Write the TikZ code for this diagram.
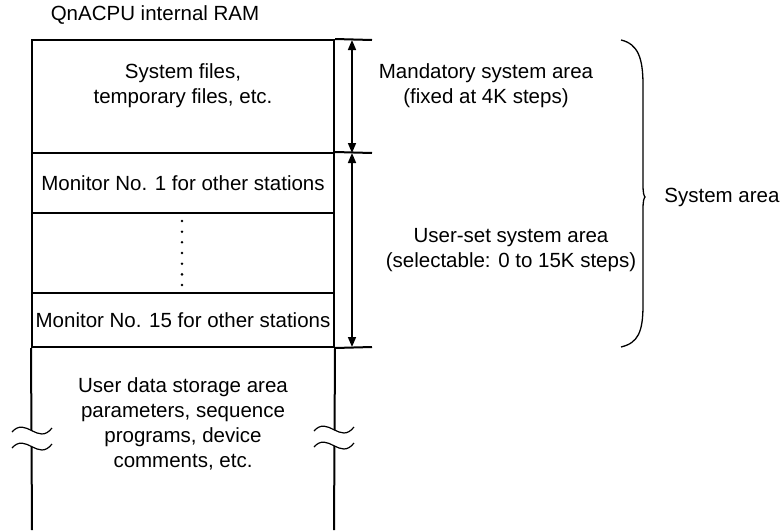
\documentclass[tikz,border=0pt]{standalone}
\usepackage{fontspec}
\setmainfont{Liberation Sans}
\usetikzlibrary{arrows.meta,positioning}

\tikzset{
  txt/.style={font=\fontsize{20.5}{25}\selectfont, align=center, inner sep=0pt},
  cell/.style={draw, line width=2pt, minimum width=302pt, inner sep=0pt,
    font=\fontsize{20.5}{25}\selectfont},
  dim/.style={line width=1.6pt, {Triangle[length=10pt,width=8pt]}-{Triangle[length=10pt,width=8pt]}},
  extline/.style={line width=2pt},
  brk/.pic={
    \fill[white] (-20,2) .. controls (-6,-14) and (6,16) .. (20,-2)
      -- (20,14) .. controls (6,32) and (-6,2) .. (-20,18) -- cycle;
    \draw[line width=1.2pt] (-20,2) .. controls (-6,-14) and (6,16) .. (20,-2);
    \draw[line width=1.2pt] (-20,18) .. controls (-6,2) and (6,32) .. (20,14);
  }
}

\begin{document}
\begin{tikzpicture}[x=1pt, y=-1pt]
  \useasboundingbox (0,0) rectangle (784,530);

  % title
  \node[txt] (title) at (155,15) {QnACPU internal RAM};

  % memory cells
  \node[cell, minimum height=113pt] (sys) at (183,96.5) {};
  \node[txt] (systxt) at (183,86) {System files,\\temporary files, etc.};
  \node[cell, minimum height=60pt] (mon1) at (183,183) {Monitor No. 1 for other stations};
  \node[cell, minimum height=80pt] (gap) at (183,253) {};
  \node[cell, minimum height=54pt] (mon15) at (183,320) {Monitor No. 15 for other stations};
  \foreach \i in {0,...,6}
    \fill (182,221+\i*10.67) circle (1.4);

  % user data area (open at the bottom)
  \draw[extline] (mon15.south west) -- (32,530);
  \draw[extline] (mon15.south east) -- (334,530);
  \node[txt] (user) at (183,424) {User data storage area\\parameters, sequence\\programs, device\\comments, etc.};
  \pic at (32,430) {brk};
  \pic at (334,429) {brk};

  % dimension lines
  \coordinate (etop) at (372,40);
  \coordinate (emid) at (372,153);
  \coordinate (ebot) at (372,347);
  \coordinate (atop) at (352,40);
  \coordinate (amid) at (352,153);
  \coordinate (abot) at (352,347);
  \draw[extline] (sys.north east) -- (etop);
  \draw[extline] (mon1.north east) -- (emid);
  \draw[extline] (mon15.south east) -- (ebot);
  \draw[dim] (atop) -- (amid);
  \draw[dim] (amid) -- (abot);

  \node[txt] (mand) at (486,86) {Mandatory system area\\(fixed at 4K steps)};
  \node[txt] (userset) at (511,250) {User-set system area\\(selectable: 0 to 15K steps)};

  % brace
  \draw[line width=1.3pt] (621,40) .. controls (638,44) and (643,58) .. (643,85)
    -- (643,185) .. controls (643,193) and (644,196) .. (645,197)
    .. controls (644,198) and (643,201) .. (643,209)
    -- (643,305) .. controls (643,332) and (638,343) .. (621,347);
  \node[txt] (sysarea) at (722,197) {System area};
\end{tikzpicture}
\end{document}
